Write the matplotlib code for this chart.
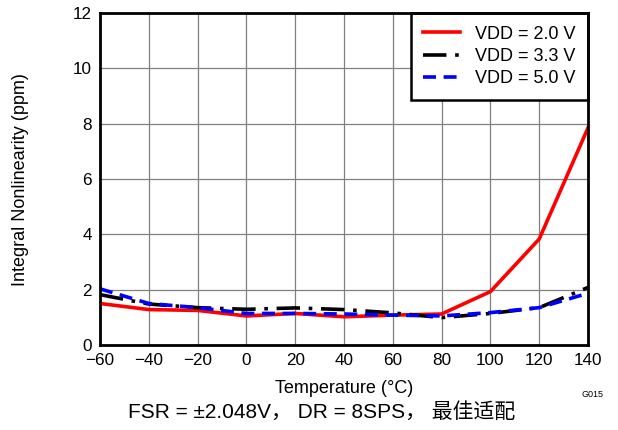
import matplotlib
matplotlib.use("Agg")
import matplotlib.pyplot as plt

plt.rcParams['font.family'] = ['Liberation Sans', 'Noto Sans CJK SC', 'DejaVu Sans']

temperature = [-60, -40, -20, 0, 20, 40, 60, 80, 100, 120, 140]
inl_vdd_2v0 = [1.50, 1.28, 1.25, 1.05, 1.14, 1.02, 1.08, 1.12, 1.93, 3.83, 7.85]
inl_vdd_3v3 = [1.82, 1.48, 1.35, 1.29, 1.34, 1.28, 1.16, 0.99, 1.14, 1.35, 2.08]
inl_vdd_5v0 = [2.03, 1.50, 1.35, 1.14, 1.14, 1.12, 1.08, 1.05, 1.17, 1.35, 1.87]
x_ticks = list(range(-60, 141, 20))
y_ticks = list(range(0, 13, 2))

fig = plt.figure(figsize=(6.18, 4.30), dpi=100)
ax = fig.add_axes([0.1618, 0.1977, 0.7897, 0.7721])

ax.plot(temperature, inl_vdd_2v0, color='#ff0000', lw=2.6, label='VDD = 2.0 V', zorder=3)
ax.plot(temperature, inl_vdd_3v3, color='black', lw=2.6, dashes=(6.5, 2.4, 1.0, 2.4),
        label='VDD = 3.3 V', zorder=4)
ax.plot(temperature, inl_vdd_5v0, color='#0000ff', lw=2.6, dashes=(3.6, 2.1),
        label='VDD = 5.0 V', zorder=5)

ax.set_xlim(-60, 140)
ax.set_ylim(0, 12)
ax.set_xticks(x_ticks)
ax.set_yticks(y_ticks)
ax.set_xticklabels(['\u2212' + str(-t) if t < 0 else str(t) for t in x_ticks])
ax.tick_params(length=0, labelsize=12.3, pad=6)
ax.grid(True, color='#808080', lw=0.9)
ax.set_axisbelow(True)
for s in ax.spines.values():
    s.set_linewidth(2.0)
    s.set_zorder(6)

ax.set_xlabel('Temperature (\u00b0C)', fontsize=13, va='center')
ax.xaxis.set_label_coords(0.501, -0.13)
ax.set_ylabel('Integral Nonlinearity (ppm)', fontsize=13, va='center')
ax.yaxis.set_label_coords(-0.162, 0.497)

leg = ax.legend(loc='upper right', fontsize=13, frameon=True, fancybox=False,
                borderaxespad=0, handlelength=2.0, handletextpad=0.85,
                labelspacing=0.3, borderpad=0.7)
leg.get_frame().set_edgecolor('black')
leg.get_frame().set_linewidth(1.8)
leg.get_frame().set_alpha(1)

fig.text(0.958, 0.082, 'G015', fontsize=6.5, ha='center', va='center')
fig.text(0.521, 0.043, 'FSR = \u00b12.048V\uff0c DR = 8SPS\uff0c \u6700\u4f73\u9002\u914d',
         fontsize=15, ha='center', va='center')

fig.savefig('out.png', dpi=100)
